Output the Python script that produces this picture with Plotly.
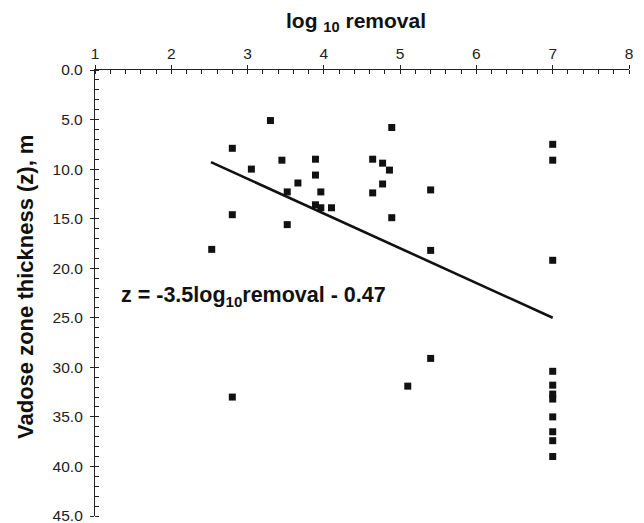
import plotly.graph_objects as go

# log10 removal (x) and vadose zone thickness z in m (y)
removal = [3.30, 2.80, 3.05, 3.45, 3.89, 3.89, 3.66, 3.52, 3.96, 3.89, 3.96, 4.10,
           2.80, 3.52, 2.53,
           4.89, 4.64, 4.77, 4.86, 4.77, 4.64, 5.40, 4.89, 5.40,
           7.0, 7.0, 7.0,
           2.80, 5.40, 5.10,
           7.0, 7.0, 7.0, 7.0, 7.0, 7.0, 7.0, 7.0]
thickness = [5.1, 7.9, 10.0, 9.1, 9.0, 10.6, 11.4, 12.3, 12.3, 13.6, 13.9, 13.9,
             14.6, 15.6, 18.1,
             5.8, 9.0, 9.4, 10.1, 11.5, 12.4, 12.1, 14.9, 18.2,
             7.5, 9.1, 19.2,
             33.0, 29.1, 31.9,
             30.4, 31.8, 32.7, 33.2, 35.0, 36.5, 37.4, 39.0]

# regression line end points
fit_x = [2.52, 7.0]
fit_z = [9.3, 25.0]

x_ticks = [1, 2, 3, 4, 5, 6, 7, 8]
y_ticks = [0, 5, 10, 15, 20, 25, 30, 35, 40, 45]
y_tick_text = ["0.0", "5.0", "10.0", "15.0", "20.0", "25.0", "30.0", "35.0", "40.0", "45.0"]

FONT = "Liberation Sans, Arial, sans-serif"
AX = "#222222"

fig = go.Figure()
fig.add_trace(go.Scatter(x=fit_x, y=fit_z, mode="lines",
                         line=dict(color="#111111", width=2.6), hoverinfo="skip"))
fig.add_trace(go.Scatter(x=removal, y=thickness, mode="markers",
                         marker=dict(symbol="square", size=7, color="#111111",
                                     line=dict(width=0))))
# empty trace to activate overlay axes (inside half of major ticks)
fig.add_trace(go.Scatter(x=[None], y=[None], xaxis="x2", yaxis="y2", hoverinfo="skip"))

fig.update_layout(
    width=644, height=523,
    margin=dict(l=95, r=15, t=70, b=7, autoexpand=False),
    paper_bgcolor="white", plot_bgcolor="white",
    showlegend=False,
    font=dict(family=FONT, size=15.5, color="#222222"),
    xaxis=dict(range=[1, 8], side="top", tickvals=x_ticks, ticktext=[str(v) for v in x_ticks],
               showgrid=False, zeroline=False, showline=True, linecolor=AX, linewidth=1.3,
               ticks="outside", ticklen=4, tickwidth=1.3, tickcolor=AX,
               ticklabeloverflow="allow", automargin=False,
               minor=dict(dtick=0.2, ticks="inside", ticklen=4, tickwidth=1, tickcolor=AX),
               tickfont=dict(size=15.5), fixedrange=True),
    yaxis=dict(range=[45, 0], tickvals=y_ticks, ticktext=y_tick_text,
               showgrid=False, zeroline=False, showline=True, linecolor=AX, linewidth=1.3,
               ticks="outside", ticklen=4, tickwidth=1.3, tickcolor=AX,
               ticklabelstandoff=4, ticklabeloverflow="allow", automargin=False,
               minor=dict(dtick=1, ticks="inside", ticklen=4, tickwidth=1, tickcolor=AX),
               tickfont=dict(size=15.5), fixedrange=True),
    xaxis2=dict(range=[1, 8], overlaying="x", side="top", tickvals=x_ticks,
                showticklabels=False, showgrid=False, zeroline=False, showline=False,
                automargin=False,
                ticks="inside", ticklen=4, tickwidth=1.3, tickcolor=AX),
    yaxis2=dict(range=[45, 0], overlaying="y", side="left", tickvals=y_ticks,
                showticklabels=False, showgrid=False, zeroline=False, showline=False,
                automargin=False,
                ticks="inside", ticklen=4, tickwidth=1.3, tickcolor=AX),
)

fig.add_annotation(text="<b>log <sub>10</sub> removal</b>", xref="paper", yref="paper",
                   x=0.488, y=1, xanchor="center", yanchor="middle", yshift=48,
                   showarrow=False, font=dict(size=21, family=FONT, color="#111111"))
fig.add_annotation(text="<b>Vadose zone thickness (z), m</b>", xref="paper", yref="paper",
                   x=0, y=0.5, xanchor="center", yanchor="middle", xshift=-70, yshift=6,
                   textangle=-90, showarrow=False,
                   font=dict(size=22, family=FONT, color="#111111"))
fig.add_annotation(text="<b>z = -3.5log<sub>10</sub>removal - 0.47</b>", x=1.315, y=22.9,
                   xanchor="left", yanchor="middle", showarrow=False,
                   font=dict(size=21.5, family=FONT, color="#111111"))

fig.write_html("out.html")
